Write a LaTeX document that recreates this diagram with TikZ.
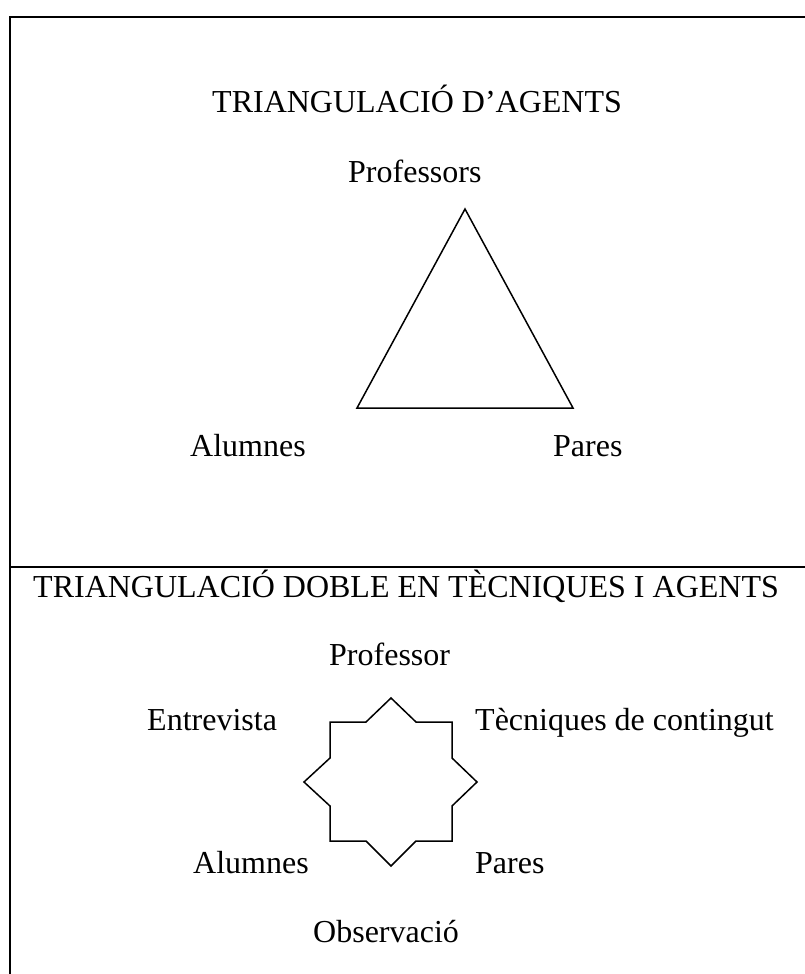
\documentclass[tikz,border=0pt]{standalone}
\usepackage{fontspec}
\setmainfont{Liberation Serif}
\begin{document}
\begin{tikzpicture}[x=1pt,y=-1pt,
  lbl/.style={anchor=base west,inner sep=0pt,font=\fontsize{32}{38}\selectfont},
  frame/.style={line width=2pt},
  shapeline/.style={line width=1.5pt,line join=miter}]
\useasboundingbox (0,0) rectangle (805,974);
% frame
\draw[frame] (10,975) -- (10,17) -- (806,17);
\draw[frame] (10,567) -- (806,567);
% top section
\node[lbl] (t1) at (212,112) {TRIANGULACIÓ D’AGENTS};
\node[lbl] (prof1) at (348,182) {Professors};
\node[lbl] (alum1) at (190,456) {Alumnes};
\node[lbl] (pares1) at (553,456) {Pares};
\coordinate (ta) at (465,209);
\coordinate (tl) at (357,408);
\coordinate (tr) at (573,408);
\draw[shapeline] (ta) -- (tl) -- (tr) -- cycle;
% bottom section
\node[lbl] (t2) at (33,597) {TRIANGULACIÓ DOBLE EN TÈCNIQUES I AGENTS};
\node[lbl] (prof2) at (329,665) {Professor};
\node[lbl] (entr) at (147,730) {Entrevista};
\node[lbl] (tecn) at (475,730) {Tècniques de contingut};
\node[lbl] (alum2) at (193,873) {Alumnes};
\node[lbl] (pares2) at (475,873) {Pares};
\node[lbl] (obs) at (313,942) {Observació};
% eight-pointed star
\coordinate (c) at (391,782);
\draw[shapeline] ([shift={(-61,-60)}]c) -- ([shift={(-25,-60)}]c) -- ([shift={(0,-84)}]c)
  -- ([shift={(25,-60)}]c) -- ([shift={(61,-60)}]c) -- ([shift={(61,-24)}]c)
  -- ([shift={(86,0)}]c) -- ([shift={(61,24)}]c) -- ([shift={(61,59)}]c)
  -- ([shift={(25,59)}]c) -- ([shift={(0,84)}]c) -- ([shift={(-25,59)}]c)
  -- ([shift={(-61,59)}]c) -- ([shift={(-61,24)}]c) -- ([shift={(-87,0)}]c)
  -- ([shift={(-61,-24)}]c) -- cycle;
\end{tikzpicture}
\end{document}
